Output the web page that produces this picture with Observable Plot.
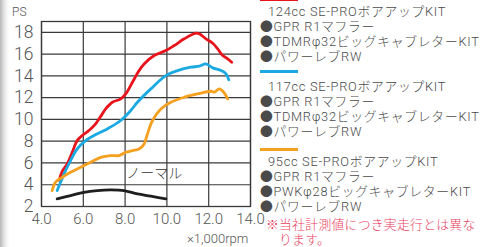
<!DOCTYPE html>
<html><head><meta charset="utf-8">
<script src="https://cdn.jsdelivr.net/npm/d3@7"></script>
<script src="https://cdn.jsdelivr.net/npm/@observablehq/plot@0.6"></script>
<style>
html,body{margin:0;padding:0;background:#fff;}
#wrap{position:relative;width:481px;height:247px;overflow:hidden;background:#fff;font-family:Roboto,"Noto Sans CJK JP",sans-serif;}
#strip{position:absolute;left:0;top:0;width:9px;height:247px;background:linear-gradient(to right,#b8b8b8,#e6e6e6 50%,#fff);}
#chart{position:absolute;left:0;top:0;}
.lab{position:absolute;color:#555;white-space:nowrap;font-weight:300;}
.leg{position:absolute;color:#4a4a4a;white-space:nowrap;font-size:12.8px;line-height:15px;height:15px;font-weight:300;letter-spacing:0.72px;}
.bar{position:absolute;height:3px;width:38px;}
</style>
</head><body>
<div id="wrap"><div id="strip"></div><div id="chart"></div></div>
<script>
// ---- data ----
const xTicks = [4, 6, 8, 10, 12, 14];
const yTicks = [2, 4, 6, 8, 10, 12, 14, 16, 18];
const yLabel = "PS";
const xLabel = "×1,000rpm";
const normalLabel = "ノーマル";

const rpm124 = [4.85,4.99,5.23,5.47,5.71,5.95,6.27,6.59,6.91,7.07,7.39,7.79,8.03,8.35,8.67,8.91,9.39,9.95,10.35,10.83,11.39,11.55,11.87,12.19,12.43,12.67,12.91,13.1];
const ps124  = [4.4,5.23,5.91,6.98,8.06,8.52,8.98,9.59,10.51,10.97,11.58,11.89,12.35,13.42,14.49,15.1,15.87,16.33,16.79,17.41,17.93,17.87,17.41,17.0,16.49,15.87,15.57,15.26];

const rpm117 = [4.75,4.91,5.15,5.39,5.71,6.11,6.51,7.15,7.79,8.27,8.59,9.23,9.95,10.51,11.15,11.55,11.87,12.19,12.59,12.83,12.96];
const ps117  = [3.46,4.23,5.3,6.22,7.29,8.06,8.52,9.13,9.9,10.82,11.58,12.81,14.03,14.49,14.8,14.89,15.1,14.74,14.49,14.19,13.64];

const rpm95 = [4.51,4.67,4.99,5.39,5.87,6.35,6.83,7.31,7.71,8.03,8.35,8.67,8.91,9.07,9.31,9.71,10.19,10.83,11.47,12.11,12.27,12.51,12.72,12.91];
const ps95  = [3.46,4.23,4.68,5.14,5.6,6.06,6.52,6.68,6.68,6.98,7.14,7.29,7.75,8.67,9.9,10.97,11.58,12.04,12.35,12.59,12.5,12.81,12.5,11.89];

const rpmNormal = [4.75,5.39,6.03,6.67,7.31,7.95,8.59,9.23,9.95];
const psNormal  = [2.7,3.0,3.3,3.46,3.52,3.46,3.15,2.95,2.7];

const seriesNames = ["124cc", "117cc", "95cc", "normal"];
const seriesColors = ["#e8141c", "#1ba9e1", "#f5a01e", "#1e1e1e"];

const legendBlocks = [
  ["124cc SE-PROボアアップKIT", "●GPR R1マフラー", "●TDMRφ32ビッグキャブレターKIT", "●パワーレブRW"],
  ["117cc SE-PROボアアップKIT", "●GPR R1マフラー", "●TDMRφ32ビッグキャブレターKIT", "●パワーレブRW"],
  ["95cc SE-PROボアアップKIT", "●GPR R1マフラー", "●PWKφ28ビッグキャブレターKIT", "●パワーレブRW"]
];
const noteLines = ["※当社計測値につき実走行とは異な", "ります。"];

// ---- build ----
const rows = [];
[[rpm124, ps124], [rpm117, ps117], [rpm95, ps95], [rpmNormal, psNormal]].forEach(([xs, ys], i) => {
  xs.forEach((x, j) => rows.push({series: seriesNames[i], rpm: x, ps: ys[j]}));
});

const chart = Plot.plot({
  width: 481, height: 247,
  marginLeft: 41, marginRight: 231, marginTop: 21, marginBottom: 41,
  style: {background: "transparent", fontFamily: "Roboto, 'Noto Sans CJK JP', sans-serif"},
  x: {domain: [4, 14], label: null},
  y: {domain: [2, 19], label: null},
  color: {domain: seriesNames, range: seriesColors},
  marks: [
    Plot.gridX(xTicks, {stroke: "#3a3a3a", strokeOpacity: 1, strokeWidth: 1.2}),
    Plot.gridY(yTicks, {stroke: "#3a3a3a", strokeOpacity: 1, strokeWidth: 1.2}),
    Plot.frame({stroke: "#3a3a3a", strokeWidth: 1.3}),
    Plot.line(rows, {x: "rpm", y: "ps", z: "series", stroke: "series", strokeWidth: 2.8, curve: "catmull-rom", strokeLinecap: "round", strokeLinejoin: "round"}),
    Plot.axisX(xTicks, {tickSize: 0, tickPadding: 7, fontSize: 15, fill: "#555", tickFormat: d => d.toFixed(1), label: null}),
    Plot.axisY(yTicks, {tickSize: 0, tickPadding: 8, fontSize: 17.5, fill: "#555", label: null}),
    Plot.text([normalLabel], {x: 9.4, y: 5.0, text: d => d, fontSize: 14, fill: "#333", textAnchor: "middle"})
  ]
});
chart.style.fontWeight = "300";
document.getElementById("chart").appendChild(chart);

const wrap = document.getElementById("wrap");
function addText(cls, txt, left, top, extra) {
  const d = document.createElement("div");
  d.className = cls; d.textContent = txt;
  d.style.left = left + "px"; d.style.top = top + "px";
  if (extra) Object.assign(d.style, extra);
  wrap.appendChild(d);
  return d;
}
addText("lab", yLabel, 12, 5, {fontSize: "12px", lineHeight: "15px"});
addText("lab", xLabel, 187, 231, {fontSize: "13px", lineHeight: "15px"});

const firstLineCenters = [11.7, 86.7, 161.7];
const barCenters = [-0.5, 71.5, 149.5];
legendBlocks.forEach((lines, b) => {
  const bar = document.createElement("div");
  bar.className = "bar";
  bar.style.left = "260px"; bar.style.top = (barCenters[b] - 1.5) + "px";
  bar.style.background = seriesColors[b];
  wrap.appendChild(bar);
  lines.forEach((t, i) => {
    addText("leg", t, i === 0 ? 268 : 260, firstLineCenters[b] - 7.5 + i * 15);
  });
});
addText("leg", noteLines[0], 266, 216.5, {color: "#e8405e", letterSpacing: "0.3px"});
addText("leg", noteLines[1], 279, 231.5, {color: "#e8405e", letterSpacing: "0.3px"});
</script>
</body></html>
